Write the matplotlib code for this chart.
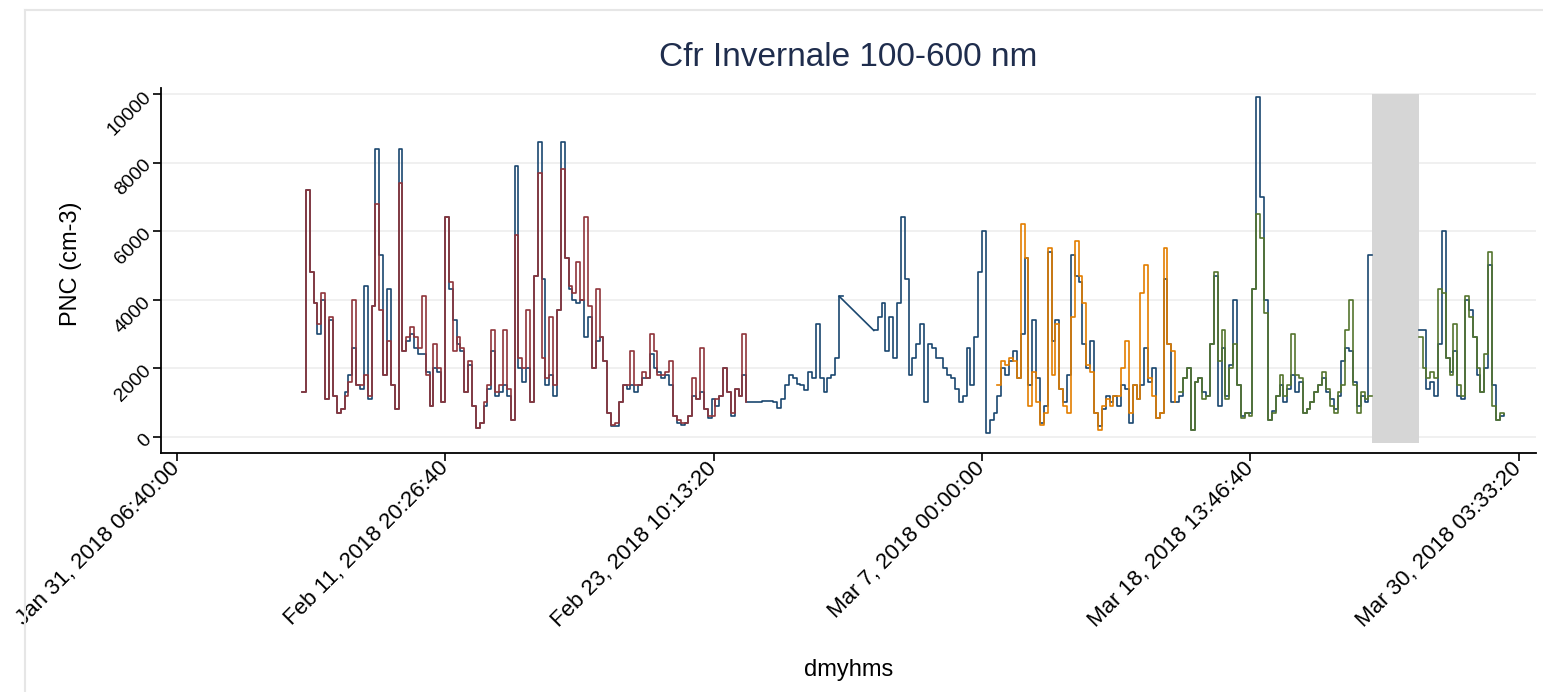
import numpy as np
import pandas as pd
import matplotlib
matplotlib.use("Agg")
import matplotlib.pyplot as plt
import matplotlib.dates as mdates
from matplotlib.lines import Line2D

plt.rcParams["font.family"] = ["Liberation Sans", "DejaVu Sans"]

nan = np.nan

# 4-hourly particle number concentration, 100-600 nm (cm-3)
step = "4h"

navy_start = "2018-02-05 16:00"
navy_pnc = [
    1300, 7200, 4800, 3900, 3000, 4000, 1100, 3400, 1200, 700,
    800, 1300, 1800, 2600, 1500, 1400, 4400, 1100, 3800, 8400,
    5300, 1800, 4300, 1500, 800, 8400, 2500, 2800, 3000, 2600,
    2400, 2400, 1900, 900, 2000, 1900, 1000, 6400, 4300, 3400,
    2700, 2500, 1300, 2100, 900, 250, 400, 900, 1400, 2500,
    1200, 1300, 1500, 1200, 500, 7900, 2000, 1600, 2000, 1000,
    4700, 8600, 4600, 1500, 1800, 1200, 3700, 8600, 5200, 4300,
    4000, 3900, 4000, 2900, 3500, 2000, 2800, 2900, 2200, 700,
    300, 300, 1000, 1500, 1400, 1500, 1300, 1500, 1700, 1700,
    2400, 2000, 1900, 1700, 1800, 1500, 600, 400, 350, 400,
    600, 1200, 1100, 1300, 800, 550, 1100, 900, 1200, 2000,
    1300, 600, 1400, 1200, 1800, 1000, 1000, 1000, 1000, 1050,
    1050, 1050, 1000, 850, 1100, 1500, 1800, 1700, 1550, 1500,
    1350, 1900, 1700, 3300, 1700, 1300, 1700, 1800, 2300, 4100,
    nan, nan, nan, nan, nan, nan, nan, nan, 3100, 3500,
    3900, 2500, 3500, 2300, 3900, 6400, 4600, 1800, 2300, 2700,
    3300, 1000, 2700, 2600, 2300, 2300, 2000, 1800, 1700, 1400,
    1000, 1200, 2600, 1500, 2900, 4800, 6000, 100, 500, 700,
    1200, 2000, 1800, 2200, 2500, 1700, 3000, 5200, 1500, 3400,
    1700, 400, 900, 5400, 2800, 3400, 1400, 1000, 1800, 5300,
    4700, 4500, 2700, 2000, 2800, 700, 300, 800, 1200, 1000,
    1200, 900, 1500, 1400, 400, 1500, 1100, 1500, 2600, 1600,
    2000, 550, 700, 4600, 2700, 1000, 1000, 1200, 1700, 2000,
    200, 1600, 1700, 1300, 1200, 2700, 4700, 900, 2600, 1200,
    2100, 4000, 1500, 600, 700, 700, 4300, 9900, 7000, 4000,
    500, 750, 1200, 1500, 1000, 1400, 1800, 1300, 1600, 700,
    800, 1000, 1300, 1500, 1700, 1300, 1100, 800, 1200, 2200,
    2600, 2500, 1600, 900, 1200, 1000, 5300, nan, nan, nan,
    nan, nan, nan, nan, nan, nan, nan, nan, nan, 3100,
    3100, 1400, 1600, 1200, 2700, 6000, 2300, 1900, 2500, 1200,
    1100, 4000, 3700, 2900, 1800, 1300, 2000, 5000, 1500, 500,
    600, 650,
]

maroon_start = "2018-02-05 16:00"
maroon_pnc = [
    1300, 7200, 4800, 3900, 3300, 4200, 1100, 3500, 1200, 700,
    800, 1200, 1600, 4000, 1500, 1500, 1800, 1200, 3800, 6800,
    3700, 1800, 2800, 1500, 800, 7400, 2500, 2900, 3200, 2900,
    2600, 4100, 1800, 900, 2700, 2000, 1000, 6400, 4500, 2500,
    2900, 2600, 1300, 2200, 900, 250, 400, 1000, 1500, 3100,
    1300, 1500, 3100, 1400, 500, 5900, 2300, 2000, 3700, 1000,
    4700, 7700, 2300, 1700, 3500, 1500, 3700, 7800, 5200, 4400,
    4200, 5100, 4000, 6400, 3800, 2000, 4300, 2900, 2200, 700,
    350, 400, 1000, 1500, 1500, 2500, 1500, 1500, 1900, 1700,
    3000, 2500, 1800, 1800, 1900, 2200, 600, 500, 400, 400,
    600, 1700, 1100, 2600, 800, 600, 600, 1100, 1200, 2000,
    1300, 700, 1400, 1200, 3000, 1000,
]

orange_start = "2018-03-07 16:00"
orange_pnc = [
    1500, 2200, 2100, 2300, 2200, 1700, 6200, 5200, 900, 1900,
    1000, 350, 700, 5500, 1800, 3300, 1400, 900, 700, 3500,
    5700, 4700, 3900, 2100, 1900, 700, 200, 900, 1100, 900,
    1200, 1200, 2000, 2800, 700, 1500, 1100, 4200, 5000, 1700,
    1200, 550, 700, 5500, 2700, 2500, 1000,
]

green_start = "2018-03-15 12:00"
green_pnc = [
    1300, 1700, 2000,
    200, 1600, 1700, 1100, 1200, 2700, 4800, 2200, 3100, 1100,
    2000, 2700, 1500, 550, 700, 600, 4300, 6500, 5800, 3600,
    500, 700, 1200, 1800, 1200, 1500, 3000, 1800, 1700, 700,
    800, 1000, 1300, 1500, 1900, 1400, 900, 700, 1300, 1500,
    3100, 4000, 1500, 700, 1300, 1100, 1200, nan, nan, nan,
    nan, nan, nan, nan, nan, nan, nan, nan, nan, 2900,
    2000, 1700, 1900, 1700, 4300, 4200, 2300, 1800, 3300, 1500,
    1200, 4100, 3500, 2900, 2000, 1300, 2400, 5400, 900, 500,
    700, 650,
]

# instrument downtime band
downtime_start = "2018-03-23 20:00"
downtime_end = "2018-03-25 20:00"
downtime_low, downtime_high = -180, 10000

tick_times = pd.date_range("2018-01-31 06:40:00", periods=6, freq="1000000s")
y_ticks = [0, 2000, 4000, 6000, 8000, 10000]

colors = {
    "navy": "#1a476f",
    "maroon": "#90353b",
    "orange": "#e37e00",
    "green": "#55752f",
}


def as_series(start, values):
    idx = pd.date_range(start, periods=len(values), freq=step)
    return pd.Series(values, index=idx, dtype=float)


navy = as_series(navy_start, navy_pnc)
maroon = as_series(maroon_start, maroon_pnc)
orange = as_series(orange_start, orange_pnc)
green = as_series(green_start, green_pnc)

fig = plt.figure(figsize=(15.43, 6.92), dpi=100)
fig.patch.set_facecolor("white")

# light outer frame of the graph region (top and left edges)
frame_x, frame_y = 25 / 1543, 1 - 10 / 692
fig.lines.append(Line2D([frame_x, 1.0], [frame_y, frame_y], transform=fig.transFigure,
                        color="#e6e6e6", linewidth=1.5))
fig.lines.append(Line2D([frame_x, frame_x], [0.0, frame_y], transform=fig.transFigure,
                        color="#e6e6e6", linewidth=1.5))

ax = fig.add_axes([161 / 1543, 1 - 452.7 / 692, 1375 / 1543, 364.7 / 692])

ax.fill_between(pd.to_datetime([downtime_start, downtime_end]),
                downtime_low, downtime_high, color="#d6d6d6", lw=0, zorder=1)

ax.plot(navy.index, navy.values, drawstyle="steps-post",
        color=colors["navy"], lw=1.2, zorder=2)

# the early-March outage is joined by a straight segment
left = navy[:"2018-02-28"].dropna()
right = navy["2018-03-01":"2018-03-05"].dropna()
ax.plot([left.index[-1], right.index[0]], [left.iloc[-1], right.iloc[0]],
        color=colors["navy"], lw=1.2, zorder=2)

for s, c in [(maroon, "maroon"), (orange, "orange"), (green, "green")]:
    ax.plot(s.index, s.values, drawstyle="steps-post",
            color=colors[c], lw=1.2, zorder=3)

ax.set_xlim(pd.Timestamp("2018-01-30 14:00"), pd.Timestamp("2018-03-30 21:30"))
ax.set_ylim(-467, 10175)

ax.set_xticks(tick_times)
ax.xaxis.set_major_formatter(mdates.DateFormatter("%b %-d, %Y %H:%M:%S"))
ax.set_yticks(y_ticks)
ax.set_yticklabels([str(v) for v in y_ticks])

ax.tick_params(axis="both", direction="out", length=6, width=1.2,
               color="black", labelcolor="black", pad=3)
ax.tick_params(axis="x", labelsize=16)
ax.tick_params(axis="y", labelsize=14)
plt.setp(ax.get_xticklabels(), rotation=45, ha="right", va="center",
         rotation_mode="anchor")
plt.setp(ax.get_yticklabels(), rotation=45, ha="right", va="center",
         rotation_mode="anchor")

ax.grid(axis="y", color="#ececec", linewidth=1.1, zorder=0)
ax.set_axisbelow(True)

for side in ["top", "right"]:
    ax.spines[side].set_visible(False)
for side in ["left", "bottom"]:
    ax.spines[side].set_linewidth(1.3)
    ax.spines[side].set_color("black")

ax.set_xlabel("dmyhms", fontsize=17)
ax.xaxis.set_label_coords(0.5, -0.565)
ax.set_ylabel("PNC (cm-3)", fontsize=17)
ax.yaxis.set_label_coords(-0.0575, 0.517)

fig.text(848.5 / 1543, 1 - 57 / 692, "Cfr Invernale 100-600 nm",
         ha="center", va="center", fontsize=24, color="#1f2d4d")

fig.savefig("out.png", dpi=100, facecolor="white")
